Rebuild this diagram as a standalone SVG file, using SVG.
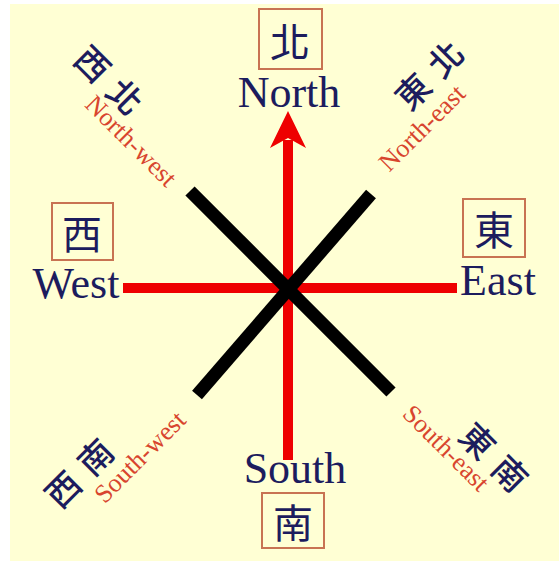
<svg xmlns="http://www.w3.org/2000/svg" width="559" height="561" viewBox="0 0 559 561">
<style>
.en{font-family:"Liberation Serif","Times New Roman",serif;font-size:44px;fill:#1c1c5e;text-anchor:middle}
.zh{font-family:"Noto Sans CJK TC","Noto Sans CJK SC",sans-serif;font-size:40px;fill:#1c1c5e;text-anchor:middle;dominant-baseline:central}
.zd{font-family:"Noto Sans CJK TC","Noto Sans CJK SC",sans-serif;font-size:34px;font-weight:500;fill:#1c1c5e;text-anchor:middle;dominant-baseline:central;letter-spacing:12px}
.rd{font-family:"Liberation Serif","Times New Roman",serif;font-size:26px;fill:#d8452e;text-anchor:middle;dominant-baseline:central}
.box{fill:none;stroke:#c87352;stroke-width:2}
.red{stroke:#ee0000;stroke-width:10;fill:none}
.blk{stroke:#000;stroke-width:13;fill:none}
</style>
<rect x="0" y="0" width="559" height="561" fill="#ffffff"/>
<rect x="10" y="4" width="549" height="557" fill="#ffffd4"/>
<g id="connectors">
<line class="red" x1="123" y1="288" x2="457" y2="288"/>
<line class="red" x1="288" y1="140" x2="288" y2="460"/>
<polygon points="288,111 306,148 288,138 270,148" fill="#ee0000"/>
<line class="blk" x1="190" y1="191" x2="391" y2="392"/>
<line class="blk" x1="371" y1="194" x2="197" y2="395"/>
</g>
<g id="north">
<rect class="box" x="259" y="9" width="63" height="60"/>
<text class="zh" x="290" y="40">北</text>
<text class="en" x="289" y="107">North</text>
</g>
<g id="west">
<rect class="box" x="52" y="203" width="61" height="57"/>
<text class="zh" x="82" y="232">西</text>
<text class="en" x="76" y="298">West</text>
</g>
<g id="east">
<rect class="box" x="463" y="199" width="62" height="58"/>
<text class="zh" x="494" y="228">東</text>
<text class="en" x="498" y="295">East</text>
</g>
<g id="south">
<rect class="box" x="262" y="493" width="62" height="55"/>
<text class="zh" x="293" y="521">南</text>
<text class="en" x="295" y="483">South</text>
</g>
<g id="northwest" transform="translate(110,79) rotate(45)">
<text class="zd" x="6" y="0">西北</text>
</g>
<g id="northwest-en" transform="translate(131,141) rotate(45)">
<text class="rd" x="0" y="0">North-west</text>
</g>
<g id="northeast" transform="translate(428,74) rotate(-45)">
<text class="zd" x="6" y="0">東北</text>
</g>
<g id="northeast-en" transform="translate(422,128) rotate(-45)">
<text class="rd" x="0" y="0">North-east</text>
</g>
<g id="southwest" transform="translate(78,472) rotate(-45)">
<text class="zd" x="6" y="0">西南</text>
</g>
<g id="southwest-en" transform="translate(140,457) rotate(-45)">
<text class="rd" x="0" y="0">South-west</text>
</g>
<g id="southeast" transform="translate(495,456) rotate(45)">
<text class="zd" x="6" y="0">東南</text>
</g>
<g id="southeast-en" transform="translate(446,448) rotate(45)">
<text class="rd" x="0" y="0">South-east</text>
</g>
</svg>
